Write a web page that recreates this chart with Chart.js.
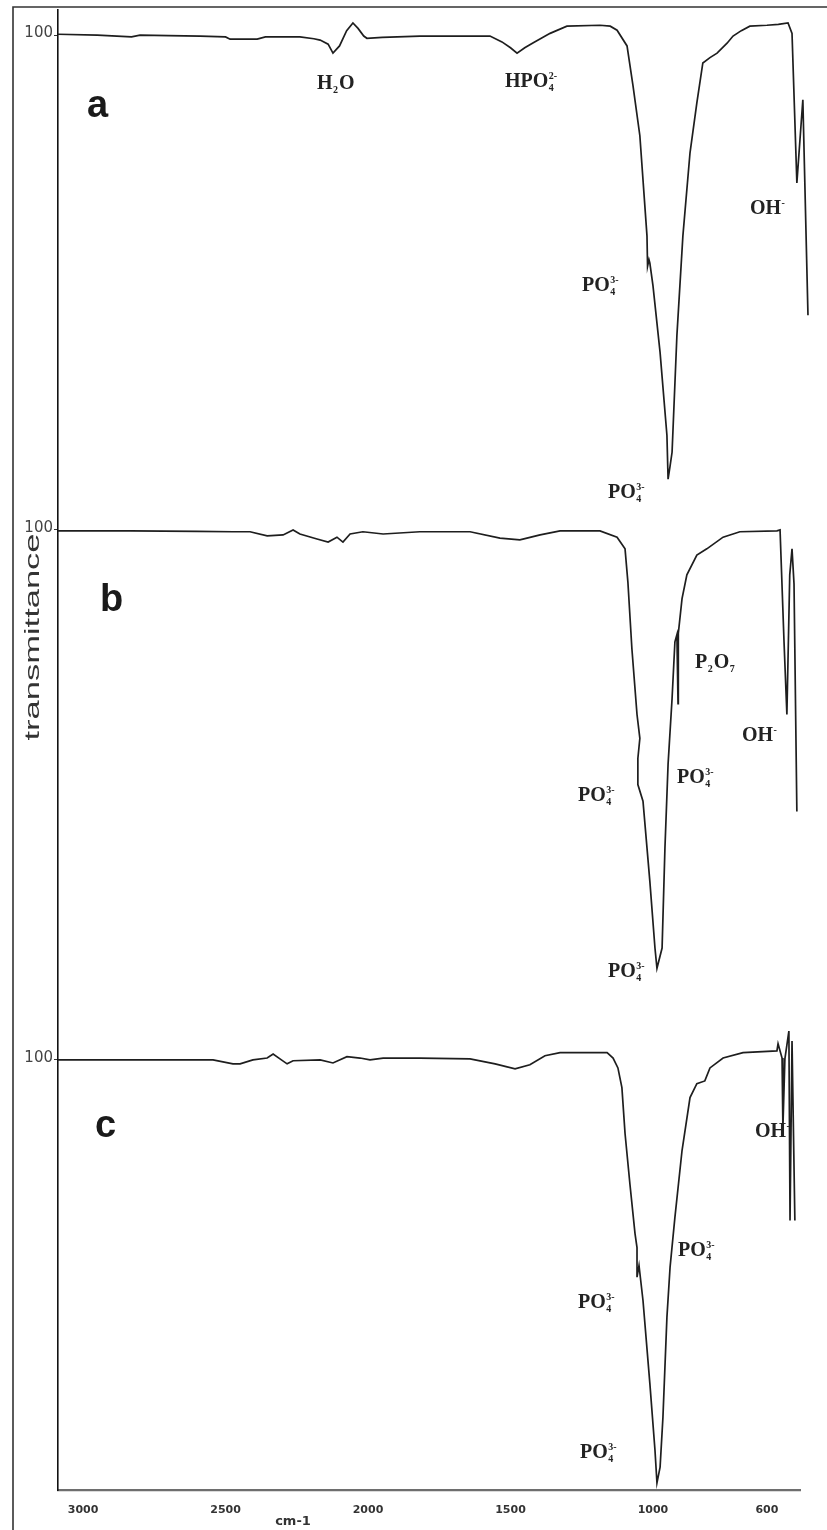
<!DOCTYPE html>
<html>
<head>
<meta charset="utf-8">
<script src="https://cdn.jsdelivr.net/npm/chart.js@4.4.1/dist/chart.umd.min.js"></script>
<style>
  html, body { margin: 0; padding: 0; background: #ffffff; }
  #wrap { width: 827px; height: 1530px; position: relative; }
  canvas { display: block; }
</style>
</head>
<body>
<div id="wrap"><canvas id="c" width="827" height="1530"></canvas></div>
<script>
// ---------------- DATA ----------------
// Panel a
const wavenumberA = [3088, 2950, 2830, 2800, 2700, 2589, 2500, 2484, 2389, 2360, 2239, 2190, 2168, 2140, 2123, 2100, 2075, 2053, 2035, 2015, 2004, 1950, 1818, 1700, 1572, 1530, 1500, 1477, 1450, 1420, 1361, 1302, 1186, 1150, 1126, 1091, 1070, 1046, 1021, 1019, 1014, 1011, 1000, 975, 951, 947, 940, 933, 916, 895, 870, 846, 825, 800, 775, 740, 719, 690, 660, 600, 560, 526, 512, 495, 474, 456];
const transmittanceA = [100.2, 100.0, 99.6, 100.0, 99.9, 99.8, 99.6, 99.1, 99.1, 99.6, 99.6, 99.2, 98.9, 98.0, 96.0, 97.6, 101.0, 102.7, 101.5, 99.8, 99.3, 99.5, 99.8, 99.8, 99.8, 98.5, 97.2, 96.0, 97.2, 98.3, 100.4, 102.0, 102.2, 102.0, 101.1, 97.6, 88.7, 77.6, 55.3, 48.5, 50.0, 49.3, 44.2, 29.3, 10.9, 1.1, 4.0, 7.1, 33.1, 55.3, 73.8, 84.9, 93.8, 95.0, 96.0, 98.2, 99.8, 101.0, 102.0, 102.2, 102.4, 102.7, 100.4, 67.1, 85.6, 37.6];

// Panel b
const wavenumberB = [3088, 2835, 2600, 2474, 2414, 2354, 2298, 2263, 2239, 2179, 2140, 2109, 2088, 2063, 2018, 1947, 1818, 1642, 1537, 1467, 1396, 1326, 1186, 1126, 1098, 1088, 1074, 1056, 1046, 1053, 1053, 1035, 1011, 993, 986, 968, 958, 947, 933, 923, 916, 912, 911, 898, 881, 846, 811, 754, 695, 565, 554, 540, 530, 520, 512, 505, 495];
const transmittanceB = [99.8, 99.8, 99.7, 99.6, 99.6, 98.7, 98.9, 100.0, 99.1, 98.0, 97.3, 98.4, 97.3, 99.1, 99.6, 99.1, 99.6, 99.6, 98.2, 97.8, 98.9, 99.8, 99.8, 98.4, 95.8, 88.4, 73.6, 58.9, 53.6, 49.1, 43.3, 39.6, 21.8, 6.9, 2.4, 6.9, 29.1, 47.8, 62.4, 75.1, 76.7, 61.3, 77.0, 84.7, 90.0, 94.4, 95.8, 98.4, 99.6, 99.8, 100.0, 75.0, 58.9, 90.0, 95.8, 88.0, 37.3];

// Panel c
const wavenumberC = [3088, 2789, 2544, 2474, 2449, 2404, 2354, 2333, 2309, 2284, 2263, 2168, 2123, 2074, 2028, 1993, 1947, 1818, 1642, 1554, 1484, 1432, 1379, 1326, 1161, 1140, 1123, 1109, 1098, 1081, 1063, 1056, 1056, 1049, 1035, 1011, 993, 986, 975, 965, 951, 940, 923, 898, 870, 846, 818, 800, 754, 684, 565, 561, 547, 544, 537, 523, 519, 512, 502];
const transmittanceC = [100.0, 100.0, 100.0, 99.1, 99.1, 100.0, 100.4, 101.3, 100.2, 99.1, 99.8, 100.0, 99.3, 100.7, 100.4, 100.0, 100.4, 100.4, 100.2, 99.1, 98.0, 98.9, 100.9, 101.6, 101.6, 100.4, 98.2, 93.8, 83.6, 72.4, 61.3, 58.2, 51.6, 54.2, 46.4, 28.0, 13.1, 5.8, 9.3, 20.4, 42.7, 53.8, 64.9, 79.8, 91.6, 94.7, 95.3, 98.2, 100.4, 101.6, 102.0, 103.6, 100.4, 84.9, 100.2, 106.4, 64.2, 104.2, 64.2];

const panelNames = ['a', 'b', 'c'];
const xTickValues = [3000, 2500, 2000, 1500, 1000, 600];
const yTickLabel = '100';
const xAxisTitle = 'cm-1';
const yAxisTitle = 'transmittance';

// ---------------- LAYOUT (positions / styles) ----------------
const X_MIN = 484, X_MAX = 3088;
const Y_MAX = 329.6;                       // vertical extent in stacked units
const PANEL_OFFSETS = [224, 113.8, -4.2];  // vertical stacking of the three spectra
const LINE_COLOR = '#1e1e1e';

const letterPos = [[87, 117], [100, 611], [95, 1137]];

// chemical annotations: parts -> string or [sub, sup]
const PO4 = ['PO', ['4', '3-']];
const annotations = [
  { parts: ['H', ['2', ''], 'O'], x: 317, y: 89 },
  { parts: ['HPO', ['4', '2-']], x: 505, y: 87 },
  { parts: ['OH', ['', '-']], x: 750, y: 214 },
  { parts: PO4, x: 582, y: 291 },
  { parts: PO4, x: 608, y: 498 },
  { parts: ['P', ['2', ''], 'O', ['7', '']], x: 695, y: 668 },
  { parts: ['OH', ['', '-']], x: 742, y: 741 },
  { parts: PO4, x: 677, y: 783 },
  { parts: PO4, x: 578, y: 801 },
  { parts: PO4, x: 608, y: 977 },
  { parts: ['OH', ['', '-']], x: 755, y: 1137 },
  { parts: PO4, x: 678, y: 1256 },
  { parts: PO4, x: 578, y: 1308 },
  { parts: PO4, x: 580, y: 1458 }
];

function toPoints(xs, ys, off) {
  return xs.map((x, i) => ({ x: x, y: ys[i] + off }));
}

const seriesX = [wavenumberA, wavenumberB, wavenumberC];
const seriesY = [transmittanceA, transmittanceB, transmittanceC];
const datasets = panelNames.map((n, i) => ({
  label: n,
  data: toPoints(seriesX[i], seriesY[i], PANEL_OFFSETS[i]),
  borderColor: LINE_COLOR,
  borderWidth: 1.7,
  pointRadius: 0,
  tension: 0,
  fill: false,
  clip: false
}));

function drawFormula(ctx, parts, x, y) {
  const big = 'bold 20px "Liberation Serif", "Times New Roman", serif';
  const small = 'bold 10px "Liberation Serif", "Times New Roman", serif';
  ctx.textBaseline = 'alphabetic';
  ctx.textAlign = 'left';
  let cx = x;
  parts.forEach(p => {
    if (typeof p === 'string') {
      ctx.font = big;
      ctx.fillText(p, cx, y);
      cx += ctx.measureText(p).width;
    } else {
      ctx.font = small;
      let w = 0;
      if (p[0]) { ctx.fillText(p[0], cx + 0.5, y + 4); w = Math.max(w, ctx.measureText(p[0]).width); }
      if (p[1]) { ctx.fillText(p[1], cx + 0.5, y - 8); w = Math.max(w, ctx.measureText(p[1]).width); }
      cx += w + 1.5;
    }
  });
}

const decorPlugin = {
  id: 'decor',
  beforeDraw(chart) {
    const ctx = chart.ctx;
    ctx.save();
    ctx.fillStyle = '#ffffff';
    ctx.fillRect(0, 0, chart.width, chart.height);
    ctx.strokeStyle = '#333';
    ctx.lineWidth = 1.6;
    ctx.beginPath();
    ctx.moveTo(13, 1530); ctx.lineTo(13, 7); ctx.lineTo(827, 7);
    ctx.stroke();
    ctx.restore();
  },
  afterDraw(chart) {
    const ctx = chart.ctx;
    ctx.save();
    ctx.fillStyle = '#1a1a1a';
    // panel letters
    ctx.font = 'bold 38px "Liberation Sans", Arial, sans-serif';
    ctx.textBaseline = 'alphabetic';
    panelNames.forEach((n, i) => ctx.fillText(n, letterPos[i][0], letterPos[i][1]));
    // chemical labels
    ctx.fillStyle = '#222';
    annotations.forEach(a => drawFormula(ctx, a.parts, a.x, a.y));
    // x axis title
    ctx.font = 'bold 13px "DejaVu Sans", sans-serif';
    ctx.fillStyle = '#333';
    ctx.textAlign = 'center';
    ctx.textBaseline = 'middle';
    ctx.fillText(xAxisTitle, 293, 1522);
    // y axis title (stretched, rotated)
    ctx.translate(33, 637);
    ctx.rotate(-Math.PI / 2);
    ctx.font = '20px "Liberation Sans", Arial, sans-serif';
    const w = ctx.measureText(yAxisTitle).width;
    ctx.scale(207 / w, 1);
    ctx.fillStyle = '#333';
    ctx.textAlign = 'center';
    ctx.textBaseline = 'middle';
    ctx.fillText(yAxisTitle, 0, 0);
    ctx.restore();
  }
};

new Chart(document.getElementById('c').getContext('2d'), {
  type: 'line',
  data: { datasets: datasets },
  options: {
    responsive: false,
    animation: false,
    layout: { padding: { top: 7, right: 27, left: 0, bottom: 0 } },
    plugins: { legend: { display: false }, tooltip: { enabled: false } },
    scales: {
      x: {
        type: 'linear',
        reverse: true,
        min: X_MIN,
        max: X_MAX,
        grid: { display: false },
        border: { display: true, color: '#6e6e6e', width: 2.2 },
        afterBuildTicks: s => { s.ticks = xTickValues.map(v => ({ value: v })); },
        afterFit: s => { s.height = 40; },
        ticks: {
          autoSkip: false, maxRotation: 0, padding: 6,
          color: '#333',
          font: { family: '"DejaVu Sans", sans-serif', size: 11, weight: 'bold' },
          callback: v => String(v)
        }
      },
      y: {
        type: 'linear',
        min: 0,
        max: Y_MAX,
        grid: { display: true, drawOnChartArea: false, drawTicks: true, tickLength: 4, color: '#333' },
        border: { display: true, color: '#111', width: 1.6 },
        afterBuildTicks: s => { s.ticks = PANEL_OFFSETS.map(o => ({ value: 100 + o })); },
        afterFit: s => { s.width = 58; },
        ticks: {
          autoSkip: false, padding: 1, labelOffset: -2,
          color: '#444',
          font: { family: '"DejaVu Sans", sans-serif', size: 15 },
          callback: () => yTickLabel
        }
      }
    }
  },
  plugins: [decorPlugin]
});
</script>
</body>
</html>
